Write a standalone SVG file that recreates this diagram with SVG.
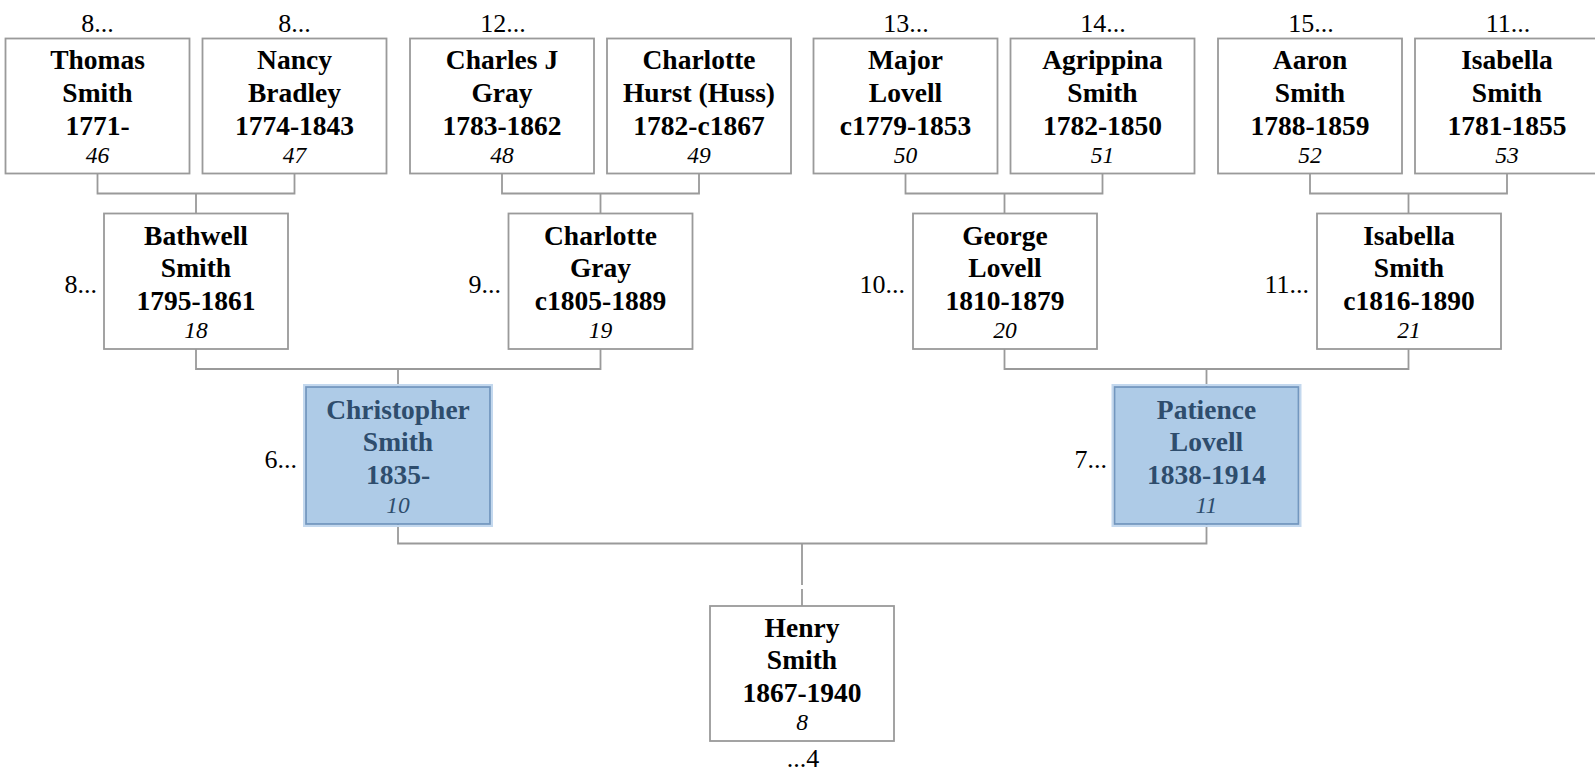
<svg xmlns="http://www.w3.org/2000/svg" width="1595" height="773" viewBox="0 0 1595 773">
<style>
text{font-family:"Liberation Serif","Times New Roman",serif;text-anchor:middle;fill:#000}
.box{fill:#fff;stroke:#9a9a9a;stroke-width:1.8}
.hl{fill:#aecbe7;stroke:#7397bf;stroke-width:1.8}
.halo{fill:none;stroke:#c3d8ee;stroke-width:2}
.n{font-size:27.5px;font-weight:bold}
.i{font-size:23.5px;font-style:italic}
.lbl{font-size:26px}
.end{text-anchor:end}
.hlt text{fill:#2e4d6d}
#connectors path{fill:none;stroke:#9a9a9a;stroke-width:1.8}
</style>
<rect width="1595" height="773" fill="#fff"/>
<g id="connectors">
<path d="M97.5,173.5V193.5H294.5V173.5M196,193.5V213.5"/>
<path d="M502,173.5V193.5H699V173.5M600.5,193.5V213.5"/>
<path d="M905.5,173.5V193.5H1102.5V173.5M1004.5,193.5V213.5"/>
<path d="M1310,173.5V193.5H1507V173.5M1408.5,193.5V213.5"/>
<path d="M196,349V369H600.5V349M398,369V387"/>
<path d="M1004.5,349V369H1408.5V349M1206.5,369V387"/>
<path d="M398,524V543.5H1206.5V524M802,543.5V585M802,589V606"/>
</g>
<g id="labels">
<text class="lbl" x="97.5" y="32">8...</text>
<text class="lbl" x="294.5" y="32">8...</text>
<text class="lbl" x="503" y="32">12...</text>
<text class="lbl" x="906" y="32">13...</text>
<text class="lbl" x="1103" y="32">14...</text>
<text class="lbl" x="1311" y="32">15...</text>
<text class="lbl" x="1508" y="32">11...</text>
<text class="lbl end" x="97" y="293">8...</text>
<text class="lbl end" x="501" y="293">9...</text>
<text class="lbl end" x="905" y="293">10...</text>
<text class="lbl end" x="1309" y="293">11...</text>
<text class="lbl end" x="297" y="468">6...</text>
<text class="lbl end" x="1107" y="468">7...</text>
<text class="lbl" x="803" y="767">...4</text>
</g>
<g id="p46"><rect class="box" x="5.5" y="38.5" width="184" height="135"/>
<text class="n" x="97.5" y="69">Thomas</text><text class="n" x="97.5" y="101.5">Smith</text><text class="n" x="97.5" y="134.5">1771-</text><text class="i" x="97.5" y="163">46</text></g>
<g id="p47"><rect class="box" x="202.5" y="38.5" width="184" height="135"/>
<text class="n" x="294.5" y="69">Nancy</text><text class="n" x="294.5" y="101.5">Bradley</text><text class="n" x="294.5" y="134.5">1774-1843</text><text class="i" x="294.5" y="163">47</text></g>
<g id="p48"><rect class="box" x="410" y="38.5" width="184" height="135"/>
<text class="n" x="502" y="69">Charles J</text><text class="n" x="502" y="101.5">Gray</text><text class="n" x="502" y="134.5">1783-1862</text><text class="i" x="502" y="163">48</text></g>
<g id="p49"><rect class="box" x="607" y="38.5" width="184" height="135"/>
<text class="n" x="699" y="69">Charlotte</text><text class="n" x="699" y="101.5">Hurst (Huss)</text><text class="n" x="699" y="134.5">1782-c1867</text><text class="i" x="699" y="163">49</text></g>
<g id="p50"><rect class="box" x="813.5" y="38.5" width="184" height="135"/>
<text class="n" x="905.5" y="69">Major</text><text class="n" x="905.5" y="101.5">Lovell</text><text class="n" x="905.5" y="134.5">c1779-1853</text><text class="i" x="905.5" y="163">50</text></g>
<g id="p51"><rect class="box" x="1010.5" y="38.5" width="184" height="135"/>
<text class="n" x="1102.5" y="69">Agrippina</text><text class="n" x="1102.5" y="101.5">Smith</text><text class="n" x="1102.5" y="134.5">1782-1850</text><text class="i" x="1102.5" y="163">51</text></g>
<g id="p52"><rect class="box" x="1218" y="38.5" width="184" height="135"/>
<text class="n" x="1310" y="69">Aaron</text><text class="n" x="1310" y="101.5">Smith</text><text class="n" x="1310" y="134.5">1788-1859</text><text class="i" x="1310" y="163">52</text></g>
<g id="p53"><rect class="box" x="1415" y="38.5" width="184" height="135"/>
<text class="n" x="1507" y="69">Isabella</text><text class="n" x="1507" y="101.5">Smith</text><text class="n" x="1507" y="134.5">1781-1855</text><text class="i" x="1507" y="163">53</text></g>
<g id="p18"><rect class="box" x="104" y="213.5" width="184" height="135.5"/>
<text class="n" x="196" y="244.5">Bathwell</text><text class="n" x="196" y="276.5">Smith</text><text class="n" x="196" y="309.5">1795-1861</text><text class="i" x="196" y="338">18</text></g>
<g id="p19"><rect class="box" x="508.5" y="213.5" width="184" height="135.5"/>
<text class="n" x="600.5" y="244.5">Charlotte</text><text class="n" x="600.5" y="276.5">Gray</text><text class="n" x="600.5" y="309.5">c1805-1889</text><text class="i" x="600.5" y="338">19</text></g>
<g id="p20"><rect class="box" x="913" y="213.5" width="184" height="135.5"/>
<text class="n" x="1005" y="244.5">George</text><text class="n" x="1005" y="276.5">Lovell</text><text class="n" x="1005" y="309.5">1810-1879</text><text class="i" x="1005" y="338">20</text></g>
<g id="p21"><rect class="box" x="1317" y="213.5" width="184" height="135.5"/>
<text class="n" x="1409" y="244.5">Isabella</text><text class="n" x="1409" y="276.5">Smith</text><text class="n" x="1409" y="309.5">c1816-1890</text><text class="i" x="1409" y="338">21</text></g>
<g id="p10" class="hlt"><rect class="halo" x="304" y="385" width="188" height="141"/><rect class="hl" x="306" y="387" width="184" height="137"/>
<text class="n" x="398" y="418.5">Christopher</text><text class="n" x="398" y="451">Smith</text><text class="n" x="398" y="484">1835-</text><text class="i" x="398" y="512.5">10</text></g>
<g id="p11" class="hlt"><rect class="halo" x="1112.5" y="385" width="188" height="141"/><rect class="hl" x="1114.5" y="387" width="184" height="137"/>
<text class="n" x="1206.5" y="418.5">Patience</text><text class="n" x="1206.5" y="451">Lovell</text><text class="n" x="1206.5" y="484">1838-1914</text><text class="i" x="1206.5" y="512.5">11</text></g>
<g id="p8"><rect class="box" x="710" y="606" width="184" height="135"/>
<text class="n" x="802" y="636.5">Henry</text><text class="n" x="802" y="668.5">Smith</text><text class="n" x="802" y="701.5">1867-1940</text><text class="i" x="802" y="730">8</text></g>
</svg>
